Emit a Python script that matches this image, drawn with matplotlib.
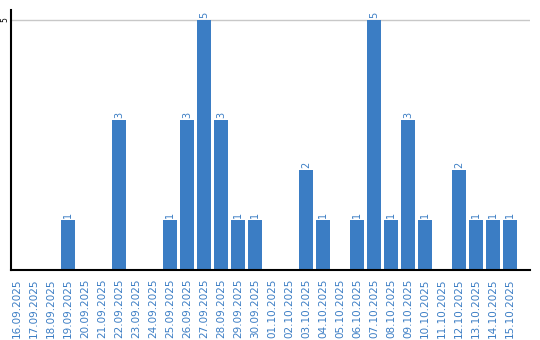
import matplotlib
matplotlib.use("Agg")
import matplotlib.pyplot as plt

dates = ["16.09.2025", "17.09.2025", "18.09.2025", "19.09.2025", "20.09.2025",
         "21.09.2025", "22.09.2025", "23.09.2025", "24.09.2025", "25.09.2025",
         "26.09.2025", "27.09.2025", "28.09.2025", "29.09.2025", "30.09.2025",
         "01.10.2025", "02.10.2025", "03.10.2025", "04.10.2025", "05.10.2025",
         "06.10.2025", "07.10.2025", "08.10.2025", "09.10.2025", "10.10.2025",
         "11.10.2025", "12.10.2025", "13.10.2025", "14.10.2025", "15.10.2025"]
values = [0, 0, 0, 1, 0, 0, 3, 0, 0, 1, 3, 5, 3, 1, 1,
          0, 0, 2, 1, 0, 1, 5, 1, 3, 1, 0, 2, 1, 1, 1]
yticks = [5]

color = "#3b7dc4"
fig = plt.figure(figsize=(5.4, 3.4), dpi=100)
ax = fig.add_axes([10.5/540, 70/340, (530-10.5)/540, 260/340])
x = list(range(len(dates)))
ax.bar(x, values, width=14/17, color=color, zorder=2)
for xi, v in zip(x, values):
    if v > 0:
        ax.text(xi, v + 0.04, str(v), rotation=90, ha="center", va="bottom",
                color=color, fontsize=7)
ax.set_xlim(-0.382, 30.18)
ax.set_ylim(0, 5.2)
ax.set_yticks(yticks)
ax.set_yticklabels([str(t) for t in yticks], rotation=90, va="center", fontsize=5.5)
ax.tick_params(axis="y", length=0, pad=1)
ax.set_xticks(x)
ax.set_xticklabels(dates, rotation=90, color=color, fontsize=7.5)
ax.tick_params(axis="x", length=0, pad=6)
ax.yaxis.grid(True, color="#c8c8c8", lw=1, zorder=0)
for s in ["top", "right"]:
    ax.spines[s].set_visible(False)
ax.spines["left"].set_linewidth(1.5)
ax.spines["bottom"].set_linewidth(1.5)
fig.savefig("out.png", dpi=100)
